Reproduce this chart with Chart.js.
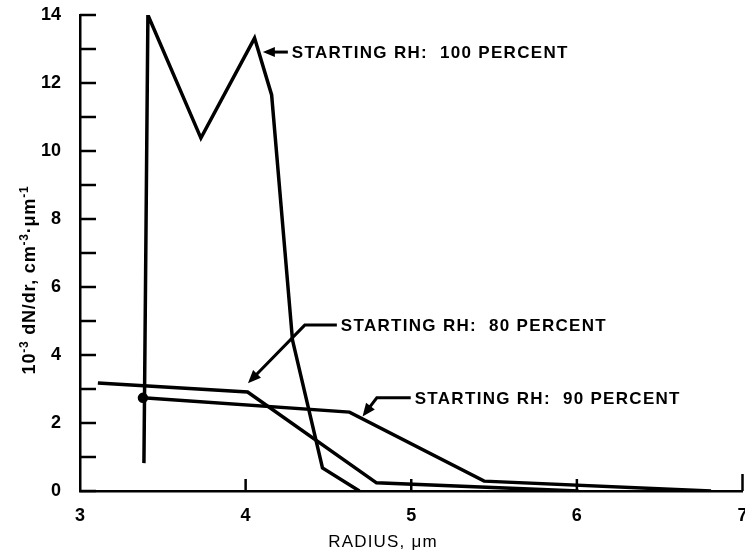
<!DOCTYPE html>
<html>
<head>
<meta charset="utf-8">
<script src="https://cdn.jsdelivr.net/npm/chart.js@4/dist/chart.umd.min.js"></script>
<style>
  html, body { margin: 0; padding: 0; background: #fff; overflow: hidden; }
  #wrap { position: relative; width: 750px; height: 554px; }
</style>
</head>
<body>
<div id="wrap"><canvas id="c"></canvas></div>
<script>
// ---- data ----
const xTickValues = [3, 4, 5, 6, 7];
const yTickValues = [0, 2, 4, 6, 8, 10, 12, 14];

const rh100X = [3.386, 3.41, 3.73, 4.054, 4.157, 4.283, 4.464, 4.687];
const rh100Y = [0.82, 14.0, 10.38, 13.32, 11.65, 4.44, 0.68, 0.0];

const rh80X = [3.108, 4.012, 4.79, 6.01];
const rh80Y = [3.18, 2.91, 0.24, 0.0];

const rh90X = [3.38, 4.627, 5.44, 6.81];
const rh90Y = [2.74, 2.32, 0.29, 0.0];

const labelText = ['STARTING RH:  100 PERCENT', 'STARTING RH:  80 PERCENT', 'STARTING RH:  90 PERCENT'];
const xTitle = 'RADIUS, \u03bcm';
const yTitleParts = [['10', false], ['-3', true], [' dN/dr, cm', false], ['-3', true], ['\u00b7', false], ['\u03bcm', false], ['-1', true]];

// annotation anchors in data units: [textX, textY, elbowX, elbowY, tipX, tipY]
const ann100 = [4.279, 12.91, 4.255, 12.91, 4.104, 12.91];
const ann80  = [4.575, 4.88, 4.357, 4.88, 4.014, 3.17];
const ann90  = [5.021, 2.74, 4.792, 2.74, 4.706, 2.19];

const pts = (xs, ys) => xs.map((v, i) => ({ x: v, y: ys[i] }));

const FONT = '"Liberation Sans", Arial, Helvetica, sans-serif';

function arrowHead(ctx, fx, fy, tx, ty, len, hw) {
  const a = Math.atan2(ty - fy, tx - fx);
  ctx.beginPath();
  ctx.moveTo(tx, ty);
  ctx.lineTo(tx - len * Math.cos(a) + hw * Math.sin(a), ty - len * Math.sin(a) - hw * Math.cos(a));
  ctx.lineTo(tx - len * Math.cos(a) - hw * Math.sin(a), ty - len * Math.sin(a) + hw * Math.cos(a));
  ctx.closePath();
  ctx.fill();
}

const decor = {
  id: 'decor',
  afterDraw(chart) {
    const { ctx } = chart;
    const x = chart.scales.x, y = chart.scales.y;
    ctx.save();
    ctx.strokeStyle = '#000';
    ctx.fillStyle = '#000';
    ctx.lineWidth = 2.5;
    ctx.lineCap = 'butt';
    // inward tick marks
    y.ticks.forEach(t => {
      const py = y.getPixelForValue(t.value);
      ctx.beginPath(); ctx.moveTo(x.left, py); ctx.lineTo(x.left + 16, py); ctx.stroke();
    });
    x.ticks.forEach(t => {
      if (t.value === x.min) return;
      const px = x.getPixelForValue(t.value);
      const len = t.value === x.max ? 17 : 12;
      ctx.beginPath(); ctx.moveTo(px, y.bottom); ctx.lineTo(px, y.bottom - len); ctx.stroke();
    });

    // annotations
    ctx.lineWidth = 3;
    const anns = [ann100, ann80, ann90];
    anns.forEach((a, i) => {
      const tx = x.getPixelForValue(a[0]), ty = y.getPixelForValue(a[1]);
      const ex = x.getPixelForValue(a[2]), ey = y.getPixelForValue(a[3]);
      const px = x.getPixelForValue(a[4]), py = y.getPixelForValue(a[5]);
      ctx.beginPath();
      if (i === 0) {
        ctx.moveTo(ex, ey);
        ctx.lineTo(px + 8, py);
      } else {
        ctx.moveTo(tx - 4, ty);
        ctx.lineTo(ex, ey);
        const ang = Math.atan2(py - ey, px - ex);
        ctx.lineTo(px - 8 * Math.cos(ang), py - 8 * Math.sin(ang));
      }
      ctx.stroke();
      if (i === 0) arrowHead(ctx, ex, ey, px, py, 12, 5);
      else arrowHead(ctx, ex, ey, px, py, 13, 5.5);
      ctx.font = 'bold 17px ' + FONT;
      ctx.textAlign = 'left';
      ctx.textBaseline = 'middle';
      try { ctx.letterSpacing = '1.3px'; } catch (e) {}
      ctx.fillText(labelText[i], tx, ty + 1);
    });

    // x title
    ctx.font = '17px ' + FONT;
    try { ctx.letterSpacing = '1.2px'; } catch (e) {}
    ctx.textAlign = 'center';
    ctx.textBaseline = 'middle';
    ctx.fillText(xTitle, 383, 542);

    // y title with superscripts
    try { ctx.letterSpacing = '0.8px'; } catch (e) {}
    const big = 'bold 18px ' + FONT, small = 'bold 12px ' + FONT;
    let total = 0;
    yTitleParts.forEach(([s, sup]) => { ctx.font = sup ? small : big; total += ctx.measureText(s).width; });
    ctx.translate(35, 280);
    ctx.rotate(-Math.PI / 2);
    ctx.textAlign = 'left';
    ctx.textBaseline = 'alphabetic';
    let cx = -total / 2;
    yTitleParts.forEach(([s, sup]) => {
      ctx.font = sup ? small : big;
      ctx.fillText(s, cx, sup ? -7 : 0);
      cx += ctx.measureText(s).width;
    });
    ctx.restore();
  }
};

const lineStyle = {
  borderColor: '#000',
  backgroundColor: '#000',
  borderWidth: 3.5,
  pointRadius: 0,
  tension: 0,
  fill: false,
  borderJoinStyle: 'miter'
};

new Chart(document.getElementById('c'), {
  type: 'line',
  data: {
    datasets: [
      Object.assign({ label: 'STARTING RH: 100 PERCENT', data: pts(rh100X, rh100Y) }, lineStyle),
      Object.assign({ label: 'STARTING RH: 80 PERCENT', data: pts(rh80X, rh80Y) }, lineStyle),
      Object.assign({ label: 'STARTING RH: 90 PERCENT', data: pts(rh90X, rh90Y) }, lineStyle, { pointRadius: [3.5, 0, 0, 0] })
    ]
  },
  options: {
    responsive: true,
    maintainAspectRatio: false,
    animation: false,
    layout: { padding: { top: 15, right: 2, bottom: 0, left: 0 } },
    plugins: { legend: { display: false }, tooltip: { enabled: false } },
    scales: {
      x: {
        type: 'linear',
        min: 3, max: 7,
        afterBuildTicks: s => { s.ticks = xTickValues.map(v => ({ value: v })); },
        ticks: { color: '#000', font: { family: FONT, size: 18, weight: 'bold' }, padding: 14, autoSkip: false, maxRotation: 0 },
        grid: { display: false, drawTicks: false },
        border: { display: true, color: '#000', width: 2.5 },
        title: { display: false },
        afterFit: s => { s.height = 63; s.paddingLeft = 0; s.paddingRight = 0; }
      },
      y: {
        type: 'linear',
        min: 0, max: 14,
        afterBuildTicks: s => { const t = []; for (let v = s.min; v <= s.max; v++) t.push({ value: v }); s.ticks = t; },
        ticks: {
          color: '#000', font: { family: FONT, size: 18, weight: 'bold' }, padding: 19, autoSkip: false,
          callback: v => yTickValues.includes(v) ? String(v) : ''
        },
        grid: { display: false, drawTicks: false },
        border: { display: true, color: '#000', width: 2.5 },
        title: { display: false },
        afterFit: s => { s.width = 80; s.paddingTop = 0; s.paddingBottom = 0; }
      }
    }
  },
  plugins: [decor]
});
</script>
</body>
</html>
